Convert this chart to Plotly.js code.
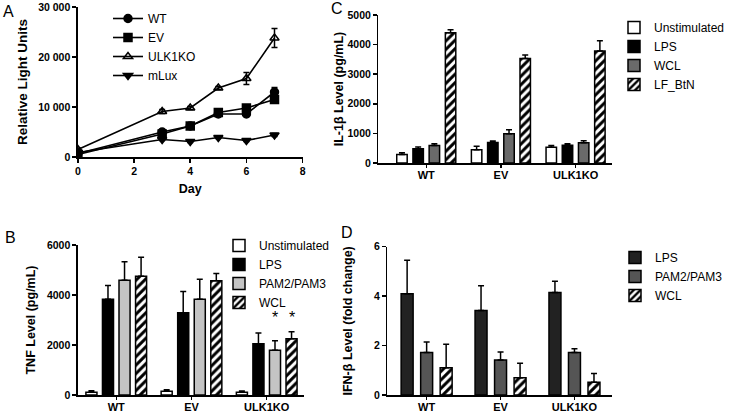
<!DOCTYPE html>
<html>
<head>
<meta charset="utf-8">
<script src="https://cdn.plot.ly/plotly-3.0.1.min.js"></script>
<style>
  html, body { margin: 0; padding: 0; background: #fff; }
  #fig { width: 730px; height: 414px; }
</style>
</head>
<body>
<div id="fig"></div>
<script>
// Panel A - luciferase time course
const days = [0, 3, 4, 5, 6, 7];
const rluWT = [700, 5000, 6200, 8600, 8600, 13000];
const rluWTErr = [200, 400, 300, 400, 300, 900];
const rluEV = [500, 4600, 6200, 8900, 9800, 11500];
const rluEVErr = [200, 300, 300, 300, 300, 700];
const rluULK = [1500, 9100, 9800, 13800, 15700, 23800];
const rluULKErr = [300, 400, 300, 300, 1200, 1900];
const rluMlux = [900, 3500, 3100, 3900, 3300, 4400];
const rluMluxErr = [100, 200, 200, 200, 200, 300];

// Panel B - TNF
const groups = ["WT", "EV", "ULK1KO"];
const tnfUnstim = [110, 150, 110];
const tnfUnstimErr = [60, 60, 50];
const tnfLPS = [3830, 3290, 2050];
const tnfLPSErr = [550, 850, 430];
const tnfPAM = [4590, 3830, 1790];
const tnfPAMErr = [740, 800, 380];
const tnfWCL = [4750, 4570, 2250];
const tnfWCLErr = [760, 290, 280];

// Panel C - IL-1beta
const il1Unstim = [290, 450, 530];
const il1UnstimErr = [60, 120, 60];
const il1LPS = [480, 690, 600];
const il1LPSErr = [60, 50, 50];
const il1WCL = [590, 990, 680];
const il1WCLErr = [60, 130, 70];
const il1LF = [4400, 3530, 3780];
const il1LFErr = [100, 120, 350];

// Panel D - IFN-beta
const ifnLPS = [4.1, 3.42, 4.15];
const ifnLPSErr = [1.35, 1.0, 0.45];
const ifnPAM = [1.72, 1.42, 1.72];
const ifnPAMErr = [0.42, 0.32, 0.15];
const ifnWCL = [1.1, 0.7, 0.52];
const ifnWCLErr = [0.95, 0.58, 0.35];

const FONT = "Liberation Sans, Arial, sans-serif";
const W = 730, H = 414;

function errUp(arr, th) {
    return { type: "data", symmetric: false, array: arr, arrayminus: arr.map(() => 0),
             color: "black", thickness: th || 1.5, width: 3 };
}

function lineTrace(name, y, err, symbol) {
    return {
        x: days, y: y, name: name, mode: "lines+markers",
        xaxis: "x", yaxis: "y", legend: "legend",
        line: { color: "black", width: 1.6 },
        marker: { symbol: symbol, size: 8, color: "black", line: { color: "black", width: 1.5 } },
        error_y: { type: "data", array: err, color: "black", thickness: 1.5, width: 3 }
    };
}

// bar helper: i = index in group, n = bars per group, slot & width in category units
function barTrace(name, y, err, i, n, slot, width, ax, leg, style) {
    const t = {
        x: groups.map((g, k) => k), y: y, name: name, type: "bar",
        xaxis: ax[0], yaxis: ax[1], legend: leg,
        width: width,
        offset: (i - (n - 1) / 2) * slot - width / 2,
        marker: { color: style.color, line: { color: "black", width: 1.5 } },
        error_y: errUp(err)
    };
    if (style.hatch) {
        t.marker.pattern = { shape: "/", fgcolor: "black", bgcolor: "white", size: 6, solidity: 0.5 };
    }
    return t;
}

const bB = { slot: 0.22, width: 0.147 };
const bC = { slot: 0.217, width: 0.14 };
const bD = { slot: 0.264, width: 0.162 };

const data = [
    lineTrace("WT", rluWT, rluWTErr, "circle"),
    lineTrace("EV", rluEV, rluEVErr, "square"),
    lineTrace("ULK1KO", rluULK, rluULKErr, "triangle-up-open"),
    lineTrace("mLux", rluMlux, rluMluxErr, "triangle-down"),

    barTrace("Unstimulated", tnfUnstim, tnfUnstimErr, 0, 4, bB.slot, bB.width, ["x2", "y2"], "legend2", { color: "white" }),
    barTrace("LPS", tnfLPS, tnfLPSErr, 1, 4, bB.slot, bB.width, ["x2", "y2"], "legend2", { color: "black" }),
    barTrace("PAM2/PAM3", tnfPAM, tnfPAMErr, 2, 4, bB.slot, bB.width, ["x2", "y2"], "legend2", { color: "#c4c4c4" }),
    barTrace("WCL", tnfWCL, tnfWCLErr, 3, 4, bB.slot, bB.width, ["x2", "y2"], "legend2", { color: "white", hatch: true }),

    barTrace("Unstimulated", il1Unstim, il1UnstimErr, 0, 4, bC.slot, bC.width, ["x3", "y3"], "legend3", { color: "white" }),
    barTrace("LPS", il1LPS, il1LPSErr, 1, 4, bC.slot, bC.width, ["x3", "y3"], "legend3", { color: "black" }),
    barTrace("WCL", il1WCL, il1WCLErr, 2, 4, bC.slot, bC.width, ["x3", "y3"], "legend3", { color: "#6a6a6a" }),
    barTrace("LF_BtN", il1LF, il1LFErr, 3, 4, bC.slot, bC.width, ["x3", "y3"], "legend3", { color: "white", hatch: true }),

    barTrace("LPS", ifnLPS, ifnLPSErr, 0, 3, bD.slot, bD.width, ["x4", "y4"], "legend4", { color: "#222222" }),
    barTrace("PAM2/PAM3", ifnPAM, ifnPAMErr, 1, 3, bD.slot, bD.width, ["x4", "y4"], "legend4", { color: "#555555" }),
    barTrace("WCL", ifnWCL, ifnWCLErr, 2, 3, bD.slot, bD.width, ["x4", "y4"], "legend4", { color: "white", hatch: true })
];

const tickFont = { family: FONT, size: 10.5, color: "black", weight: "bold" };
const titleFont = { family: FONT, size: 12.5, color: "black", weight: "bold" };

function axisBase(extra) {
    return Object.assign({
        showline: true, linecolor: "black", linewidth: 1.5,
        ticks: "outside", ticklen: 4, tickwidth: 1.5, tickcolor: "black",
        showgrid: false, zeroline: false, fixedrange: true,
        tickfont: tickFont
    }, extra);
}

function px(x) { return x / W; }
function py(y) { return 1 - y / H; }

function catAxis(range, domain, anchor) {
    return axisBase({
        type: "linear", range: range, domain: domain, anchor: anchor,
        ticklen: 3, ticklabelstandoff: -2,
        tickvals: groups.map((g, k) => k), ticktext: groups, tickfont: Object.assign({}, tickFont, { size: 11 })
    });
}

function legendAt(x, y) {
    return {
        x: x, y: y, xanchor: "left", yanchor: "top",
        bgcolor: "rgba(0,0,0,0)", font: { family: FONT, size: 12, color: "black" },
        tracegroupgap: 0, itemclick: false, itemdoubleclick: false
    };
}

// asterisks above ULK1KO PAM2/PAM3 and WCL bars
const stars = [2, 3].map(i => ({
    xref: "x2", yref: "y2",
    x: 2 + (i - 1.5) * bB.slot,
    y: Math.max(tnfPAM[2] + tnfPAMErr[2], tnfWCL[2] + tnfWCLErr[2]),
    yshift: 14, text: "*", showarrow: false,
    font: { family: FONT, size: 16, color: "black" }
}));

const panelLabels = [["A", 9, 11], ["B", 11, 237], ["C", 337, 9], ["D", 347, 232]].map(p => ({
    xref: "paper", yref: "paper", x: px(p[1]), y: py(p[2]),
    xanchor: "center", yanchor: "middle", text: p[0], showarrow: false,
    font: { family: FONT, size: 16, color: "black" }
}));

const layout = {
    width: W, height: H,
    margin: { l: 0, r: 0, t: 0, b: 0 },
    paper_bgcolor: "white", plot_bgcolor: "white",
    separators: ". ",
    barmode: "overlay",
    font: { family: FONT, color: "black" },

    xaxis: axisBase({ range: [0, 8], dtick: 2, tick0: 0, domain: [px(78), px(303)], anchor: "y",
        title: { text: "Day", font: titleFont, standoff: 8 } }),
    yaxis: axisBase({ range: [0, 30000], tickvals: [0, 10000, 20000, 30000], tickformat: ",d",
        domain: [py(157), py(7)], anchor: "x",
        title: { text: "Relative Light Units", font: Object.assign({}, titleFont, { size: 13.5 }), standoff: 7 } }),

    xaxis2: catAxis([-0.51, 2.49], [px(78), px(304)], "y2"),
    yaxis2: axisBase({ range: [0, 6000], dtick: 2000, domain: [py(395), py(245)], anchor: "x2",
        title: { text: "TNF Level (pg/mL)", font: titleFont, standoff: 8 } }),

    xaxis3: catAxis([-0.64, 2.49], [px(379), px(613)], "y3"),
    yaxis3: axisBase({ range: [0, 5000], dtick: 1000, domain: [py(163), py(15)], anchor: "x3",
        title: { text: "IL-1β Level (pg/mL)", font: titleFont } }),

    xaxis4: catAxis([-0.53, 2.51], [px(388), px(613)], "y4"),
    yaxis4: axisBase({ range: [0, 6], dtick: 2, domain: [py(395), py(246.7)], anchor: "x4",
        title: { text: "IFN-β Level (fold change)", font: titleFont } }),

    legend: legendAt(px(108), py(4)),
    legend2: legendAt(px(219), py(231)),
    legend3: legendAt(px(615), py(13)),
    legend4: legendAt(px(615), py(243)),

    annotations: stars.concat(panelLabels)
};

Plotly.newPlot("fig", data, layout, { displayModeBar: false, staticPlot: true });
</script>
</body>
</html>
